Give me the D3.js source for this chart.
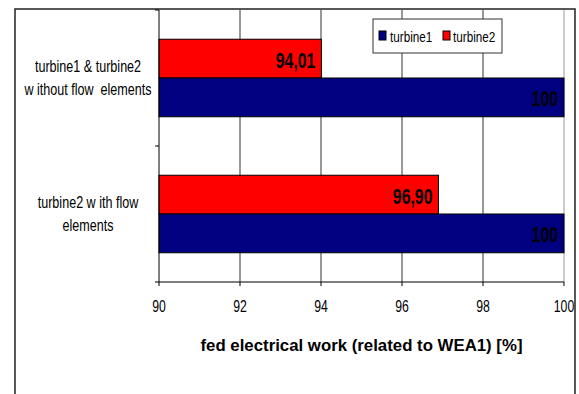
<!DOCTYPE html>
<html><head><meta charset="utf-8">
<script src="https://cdn.jsdelivr.net/npm/d3@7"></script>
<style>html,body{margin:0;padding:0;background:#fff;}svg{display:block;}text{white-space:pre;}</style>
</head><body>
<script>
// ---- data ----
const categories = ["cat1", "cat2"];
const categoryLines = [["turbine1 & turbine2", "w ithout flow  elements"], ["turbine2 w ith flow", "elements"]];
const seriesNames = ["turbine1", "turbine2"];
const turbine1 = [100, 100];
const turbine2 = [94.01, 96.90];
const turbine1Labels = ["100", "100"];
const turbine2Labels = ["94,01", "96,90"];
const xTicks = [90, 92, 94, 96, 98, 100];
const xTitle = "fed electrical work (related to WEA1) [%]";

const W = 579, H = 394;
const colors = {turbine1: "#000080", turbine2: "#FF0000"};
const font = "'Liberation Sans', Arial, sans-serif";
const SX = 0.72;

const svg = d3.select("body").append("svg").attr("width", W).attr("height", H);

// outer frame
svg.append("rect").attr("x", 15).attr("y", 9).attr("width", 560).attr("height", 400)
  .attr("fill", "#fff").attr("stroke", "#222").attr("stroke-width", 1.5);

const x = d3.scaleLinear().domain([90, 100]).range([159, 564]);
const y = d3.scaleBand().domain(categories).range([10, 282]).paddingInner(0.43).paddingOuter(0.215);
const ySub = d3.scaleBand().domain(["turbine2", "turbine1"]).range([0, y.bandwidth()]);

function txt(g, x0, y0, s, size, weight, anchor, sx) {
  return g.append("text").attr("transform", `translate(${x0},${y0}) scale(${sx || SX},1)`)
    .attr("font-family", font).attr("font-size", size).attr("font-weight", weight || "normal")
    .attr("text-anchor", anchor || "middle").attr("fill", "#000").text(s);
}

// gridlines
svg.append("g").selectAll("line").data(xTicks.filter(t => t > 90)).join("line")
  .attr("x1", d => x(d)).attr("x2", d => x(d)).attr("y1", 10).attr("y2", 282)
  .attr("stroke", d => d === 100 ? "#999" : "#333").attr("stroke-width", 1);

// bars
const rows = categories.map((c, i) => ({c, i, vals: [
  {s: "turbine2", v: turbine2[i], label: turbine2Labels[i]},
  {s: "turbine1", v: turbine1[i], label: turbine1Labels[i]}]}));
const gCat = svg.append("g").selectAll("g").data(rows).join("g")
  .attr("transform", d => `translate(0,${y(d.c)})`);
gCat.selectAll("rect").data(d => d.vals).join("rect")
  .attr("x", x(90)).attr("y", d => ySub(d.s)).attr("width", d => x(d.v) - x(90))
  .attr("height", ySub.bandwidth()).attr("fill", d => colors[d.s])
  .attr("stroke", "#000").attr("stroke-width", 1);
gCat.each(function(d) {
  const g = d3.select(this);
  d.vals.forEach(b => {
    txt(g, x(b.v) - 6, ySub(b.s) + ySub.bandwidth() / 2 + 9, b.label, 22, "bold", "end");
  });
});

// axes
const ax = svg.append("g");
ax.append("line").attr("x1", x(90)).attr("x2", x(100)).attr("y1", 282).attr("y2", 282).attr("stroke", "#000");
ax.append("line").attr("x1", x(90)).attr("x2", x(90)).attr("y1", 10).attr("y2", 282).attr("stroke", "#000");
ax.selectAll(".xt").data(xTicks).join("line").attr("class", "xt")
  .attr("x1", d => x(d)).attr("x2", d => x(d)).attr("y1", 282).attr("y2", 286).attr("stroke", "#000");
xTicks.forEach(t => txt(ax, x(t), 312, String(t), 17, "normal", "middle"));
const yTickPos = [10, y(categories[1]) - y.step() * y.paddingInner() / 2, 282];
ax.selectAll(".yt").data(yTickPos).join("line").attr("class", "yt")
  .attr("x1", x(90) - 4).attr("x2", x(90)).attr("y1", d => d).attr("y2", d => d).attr("stroke", "#000");

// category labels
categories.forEach((c, i) => {
  const cy = y(c) + y.bandwidth() / 2;
  categoryLines[i].forEach((line, k) => {
    txt(svg, 88, cy - 11.5 + k * 23 + 5.5, line, 17, "normal", "middle", 0.74);
  });
});

// axis title
svg.append("text").attr("x", (x(90) + x(100)) / 2).attr("y", 351)
  .attr("font-family", font).attr("font-size", 16.5).attr("font-weight", "bold")
  .attr("text-anchor", "middle").attr("textLength", 322).attr("lengthAdjust", "spacingAndGlyphs")
  .text(xTitle);

// legend
const lg = svg.append("g");
lg.append("rect").attr("x", 373).attr("y", 19).attr("width", 129).attr("height", 34)
  .attr("fill", "#fff").attr("stroke", "#333");
const legItems = [{s: seriesNames[0], mx: 379, tx: 390}, {s: seriesNames[1], mx: 443, tx: 453}];
legItems.forEach(it => {
  lg.append("rect").attr("x", it.mx).attr("y", 31).attr("width", 7).attr("height", 9)
    .attr("fill", colors[it.s]).attr("stroke", "#000").attr("stroke-width", 1);
  txt(lg, it.tx, 41.5, it.s, 15, "normal", "start", 0.78);
});
</script>
</body></html>
